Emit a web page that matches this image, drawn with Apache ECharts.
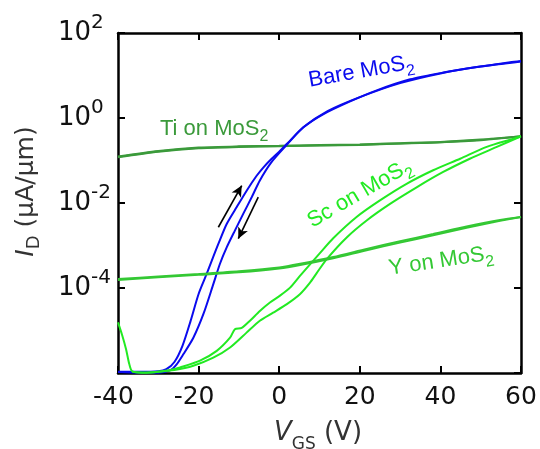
<!DOCTYPE html>
<html>
<head>
<meta charset="utf-8">
<script src="https://cdn.jsdelivr.net/npm/echarts@6/dist/echarts.min.js"></script>
<style>
  html, body { margin: 0; padding: 0; background: #fff; }
  #chart { width: 540px; height: 449px; }
</style>
</head>
<body>
<div id="chart"></div>
<script>
// Transfer curves I_D(V_GS), forward and reverse sweeps, for each contact metal.
// Gate voltage in V, drain current in uA/um.

const vBareUp = [-40, -35, -30, -28, -26, -24, -22, -20, -18, -16.75, -15, -13, -10.5, -8, -5.6, -3.9, -2, 0, 2, 6, 11, 17.6, 24.2, 32.5, 40.7, 49, 57.3, 60];
const iBareUp = [1.07e-6, 1.07e-6, 1.10e-6, 1.23e-6, 1.82e-6, 4.37e-6, 1.66e-5, 7.24e-5, 2.14e-4, 4.37e-4, 1.15e-3, 3.24e-3, 8.13e-3, 2.0e-2, 4.37e-2, 6.92e-2, 0.107, 0.162, 0.251, 0.603, 1.23, 2.45, 4.47, 8.13, 11.7, 15.8, 20.4, 21.9];

const vBareDown = [60, 50, 40, 30, 20, 12, 6, 2, -2, -4.8, -6.8, -8.9, -11, -13, -14.7, -16.35, -18.8, -21.3, -23.8, -25.5, -27.1, -30, -35, -40];
const iBareDown = [21.4, 16.2, 11.2, 6.61, 3.09, 1.45, 0.603, 0.240, 8.91e-2, 3.39e-2, 1.38e-2, 5.62e-3, 2.24e-3, 9.12e-4, 3.72e-4, 1.23e-4, 2.45e-5, 6.76e-6, 2.75e-6, 1.58e-6, 1.15e-6, 1.02e-6, 1.02e-6, 1.05e-6];

const vTiUp = [-40, -30, -20, -10, 0, 10, 20, 30, 40, 50, 60];
const iTiUp = [0.120, 0.162, 0.195, 0.209, 0.219, 0.226, 0.234, 0.251, 0.269, 0.302, 0.372];
const vTiDown = [60, 50, 40, 30, 20, 10, 0, -10, -20, -30, -40];
const iTiDown = [0.372, 0.309, 0.272, 0.254, 0.237, 0.229, 0.221, 0.214, 0.200, 0.166, 0.123];

const vScUp = [-36.5, -33, -30, -27, -24.6, -19.65, -15.5, -12.2, -11, -9.3, -7.25, -4.8, -2.3, 0.2, 2.7, 5.2, 7.6, 10.1, 13.4, 19.2, 25, 31.6, 38.2, 44.9, 51.5, 58.1, 60];
const iScUp = [1.07e-6, 1.02e-6, 1.07e-6, 1.17e-6, 1.35e-6, 1.95e-6, 3.31e-6, 6.76e-6, 1.07e-5, 1.15e-5, 1.70e-5, 2.88e-5, 4.57e-5, 6.61e-5, 1.02e-4, 1.95e-4, 3.55e-4, 6.61e-4, 1.48e-3, 4.68e-3, 1.15e-2, 2.82e-2, 5.89e-2, 0.110, 0.209, 0.324, 0.372];

const vScDown = [60, 54, 47.3, 40.7, 34.1, 27.5, 21.7, 16.75, 11.8, 9.3, 7.6, 5.2, 1.9, -1.5, -4.8, -8.1, -12.2, -16.35, -21.3, -26, -30, -34, -36.5, -37.2, -38, -39, -40];
const iScDown = [0.372, 0.209, 0.110, 5.37e-2, 2.34e-2, 9.55e-3, 3.89e-3, 1.55e-3, 4.79e-4, 2.24e-4, 1.32e-4, 7.24e-5, 4.17e-5, 2.63e-5, 1.70e-5, 8.91e-6, 3.98e-6, 2.29e-6, 1.48e-6, 1.17e-6, 1.07e-6, 1.02e-6, 1.10e-6, 1.62e-6, 3.63e-6, 7.94e-6, 1.55e-5];

const vYUp = [-40, -30, -20, -10, 0, 5.2, 13.4, 21.7, 30, 38.2, 46.5, 54.8, 60];
const iYUp = [1.55e-4, 1.78e-4, 2.04e-4, 2.34e-4, 2.88e-4, 3.47e-4, 5.01e-4, 7.76e-4, 1.17e-3, 1.74e-3, 2.63e-3, 3.80e-3, 4.68e-3];
const vYDown = [60, 54.8, 46.5, 38.2, 30, 21.7, 13.4, 5.2, 0, -10, -20, -30, -40];
const iYDown = [4.68e-3, 3.98e-3, 2.79e-3, 1.86e-3, 1.26e-3, 8.32e-4, 5.37e-4, 3.72e-4, 3.05e-4, 2.48e-4, 2.14e-4, 1.86e-4, 1.62e-4];

// Sweep-direction arrows beside the bare-channel hysteresis loop: [V, I] start and end.
const arrowUp = [[-15.1, 2.69e-3], [-9.3, 2.57e-2]];
const arrowDown = [[-5.2, 1.38e-2], [-10.15, 1.45e-3]];

const xTicks = { min: -40, max: 60, step: 20 };
const yRange = { min: 1e-6, max: 1e2 };

const C_BARE = '#0a0aee';
const C_TI = '#3b9a3b';
const C_SC = '#22ea22';
const C_Y = '#34c834';

const FONT_AX = 'DejaVu Sans';
const FONT_TAG = 'Liberation Sans, Arial, sans-serif';

function pairs(v, i) { return v.map((x, k) => [x, i[k]]); }

function curve(name, v, i, color, width, z) {
  return {
    name, type: 'line', data: pairs(v, i), showSymbol: false, symbol: 'none',
    smooth: 0.25, clip: true, z: z || 2,
    lineStyle: { color, width: width || 2 }
  };
}

// Rotated curve label with a subscript; (bx, by) is the start of the baseline.
function tag(bx, by, deg, main, sub, color) {
  const t = deg * Math.PI / 180;
  const lift = 18.8;
  return {
    type: 'text', x: bx - lift * Math.sin(t), y: by - lift * Math.cos(t), rotation: t, z: 100,
    style: {
      text: '{m|' + main + '}{s|' + sub + '}',
      align: 'left', verticalAlign: 'top', fill: color,
      rich: {
        m: { fontSize: 22, lineHeight: 27, verticalAlign: 'top', fontFamily: FONT_TAG, fill: color },
        s: { fontSize: 16, lineHeight: 16, verticalAlign: 'bottom', fontFamily: FONT_TAG, fill: color }
      }
    }
  };
}

const axisLineStyle = { show: true, onZero: false, lineStyle: { color: '#000', width: 2.5 } };
const tickStyle = { show: true, inside: true, length: 7, lineStyle: { color: '#000', width: 2 } };

const chart = echarts.init(document.getElementById('chart'), null, { renderer: 'canvas' });

chart.setOption({
  animation: false,
  backgroundColor: '#fff',
  grid: { left: 118, right: 19, top: 33, bottom: 76, containLabel: false, outerBoundsMode: 'none' },
  xAxis: [
    {
      type: 'value', position: 'bottom', min: xTicks.min, max: xTicks.max, interval: xTicks.step,
      axisLine: axisLineStyle, axisTick: tickStyle, splitLine: { show: false },
      axisLabel: {
        margin: 12, fontSize: 25, lineHeight: 25, fontFamily: FONT_AX, color: '#111',
        formatter: v => v < 0 ? v + '{h|-}' : String(v),
        rich: { h: { color: 'rgba(0,0,0,0)', fontSize: 25, fontFamily: FONT_AX } }
      }
    },
    {
      type: 'value', position: 'top', min: xTicks.min, max: xTicks.max, interval: xTicks.step,
      axisLine: axisLineStyle, axisTick: tickStyle, splitLine: { show: false },
      axisLabel: { show: false }
    }
  ],
  yAxis: [
    {
      type: 'log', logBase: 100, position: 'left', min: yRange.min, max: yRange.max,
      axisLine: axisLineStyle, axisTick: tickStyle, splitLine: { show: false },
      axisLabel: {
        margin: 60, align: 'left', color: '#111',
        formatter: v => {
          const e = Math.round(Math.log10(v));
          if (e === -6) return '';
          return '{b|10}{s|' + e + '}';
        },
        rich: {
          b: { fontSize: 26, lineHeight: 41, fontFamily: FONT_AX, color: '#111' },
          s: { fontSize: 20, lineHeight: 20, verticalAlign: 'top', fontFamily: FONT_AX, color: '#111' }
        }
      }
    },
    {
      type: 'log', logBase: 100, position: 'right', min: yRange.min, max: yRange.max,
      axisLine: axisLineStyle, axisTick: tickStyle, splitLine: { show: false },
      axisLabel: { show: false }
    }
  ],
  series: [
    curve('Ti up', vTiUp, iTiUp, C_TI, 2.2, 2),
    curve('Ti down', vTiDown, iTiDown, C_TI, 2.2, 2),
    Object.assign(curve('Bare up', vBareUp, iBareUp, C_BARE, 2, 3), {
      markLine: {
        silent: true, symbol: ['none', 'arrow'], symbolSize: [8, 11],
        lineStyle: { color: '#000', width: 1.6, type: 'solid' },
        label: { show: false },
        emphasis: { disabled: true },
        data: [
          [{ coord: arrowUp[0] }, { coord: arrowUp[1] }],
          [{ coord: arrowDown[0] }, { coord: arrowDown[1] }]
        ]
      }
    }),
    curve('Bare down', vBareDown, iBareDown, C_BARE, 2, 3),
    curve('Sc up', vScUp, iScUp, C_SC, 2, 4),
    curve('Sc down', vScDown, iScDown, C_SC, 2, 4),
    curve('Y up', vYUp, iYUp, C_Y, 2, 5),
    curve('Y down', vYDown, iYDown, C_Y, 2, 5)
  ],
  graphic: [
    tag(310, 88.5, 10, 'Bare MoS', '2', C_BARE),
    tag(160, 136.7, 0, 'Ti on MoS', '2', C_TI),
    tag(313, 229.5, 30, 'Sc on MoS', '2', C_SC),
    tag(390, 276.5, 8.5, 'Y on MoS', '2', C_Y),
    {
      // x-axis title
      type: 'text', x: 318, y: 420, z: 100,
      style: {
        text: '{i|V}{s|GS}{n| (V)}', align: 'center', verticalAlign: 'top', fill: '#333',
        rich: {
          i: { fontSize: 26, lineHeight: 33, verticalAlign: 'top', fontStyle: 'italic', fontFamily: FONT_AX, fill: '#333' },
          s: { fontSize: 17, lineHeight: 17, verticalAlign: 'bottom', fontFamily: FONT_AX, fill: '#333' },
          n: { fontSize: 26, lineHeight: 26, verticalAlign: 'top', fontFamily: FONT_AX, fill: '#333' }
        }
      }
    },
    {
      // y-axis title, reading bottom to top
      type: 'text', x: 13.5, y: 191.5, rotation: Math.PI / 2, z: 100,
      style: {
        text: '{i|I}{s|D}{n| (\u00b5A/\u00b5m)}', align: 'center', verticalAlign: 'top', fill: '#333',
        rich: {
          i: { fontSize: 25, lineHeight: 30, verticalAlign: 'top', fontStyle: 'italic', fontFamily: FONT_AX, fill: '#333' },
          s: { fontSize: 18, lineHeight: 18, verticalAlign: 'bottom', fontFamily: FONT_AX, fill: '#333' },
          n: { fontSize: 25, lineHeight: 25, verticalAlign: 'top', fontFamily: FONT_AX, fill: '#333' }
        }
      }
    }
  ]
});
</script>
</body>
</html>
